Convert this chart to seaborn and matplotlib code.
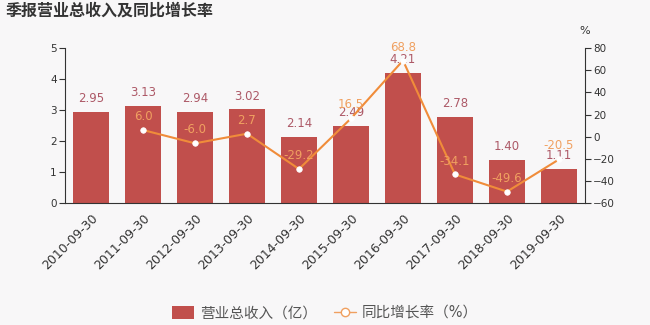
import numpy as np
import pandas as pd
import matplotlib
matplotlib.use("Agg")
import matplotlib.pyplot as plt
import seaborn as sns
from matplotlib.patches import Patch
from matplotlib.lines import Line2D

categories = ["2010-09-30", "2011-09-30", "2012-09-30", "2013-09-30", "2014-09-30",
              "2015-09-30", "2016-09-30", "2017-09-30", "2018-09-30", "2019-09-30"]
revenue = [2.95, 3.13, 2.94, 3.02, 2.14, 2.49, 4.21, 2.78, 1.40, 1.11]
growth = [np.nan, 6.0, -6.0, 2.7, -29.2, 16.5, 68.8, -34.1, -49.6, -20.5]
left_ticks = [0, 1, 2, 3, 4, 5]
right_ticks = [-60, -40, -20, 0, 20, 40, 60, 80]

BG = "#f8f7f8"
BAR = "#c14f4c"
BAR_TXT = "#ad5967"
LINE = "#f08c3a"
LINE_TXT = "#f0a060"
AX = "#333333"

sns.set_theme(style="white")
plt.rcParams["font.family"] = ["DejaVu Sans", "Noto Sans CJK SC"]

df = pd.DataFrame({"date": categories, "revenue": revenue, "growth": growth})
df["pos"] = np.arange(len(df))

fig = plt.figure(figsize=(6.5, 3.25), dpi=100, facecolor=BG)
ax = fig.add_axes([0.1, 0.375, 0.8, 0.477])
ax.set_facecolor(BG)

sns.barplot(data=df, x="pos", y="revenue", color=BAR, width=0.7, ax=ax,
            native_scale=True, saturation=1, edgecolor="none")
ax.set_xlim(-0.5, len(categories) - 0.5)
ax.set_ylim(left_ticks[0], left_ticks[-1])
ax.set_yticks(left_ticks)

ax2 = ax.twinx()
sns.lineplot(data=df, x="pos", y="growth", color=LINE, lw=1.5, marker="o",
             markersize=4, markerfacecolor="white", markeredgecolor="white",
             markeredgewidth=0.5, ax=ax2)
ax2.set_ylim(right_ticks[0], right_ticks[-1])
ax2.set_yticks(right_ticks)

for p, v in zip(df["pos"], df["revenue"]):
    ax.annotate(f"{v:.2f}", (p, v), xytext=(0, 5), textcoords="offset points",
                ha="center", va="bottom", fontsize=8.5, color=BAR_TXT)
for p, g in zip(df["pos"], df["growth"]):
    if not np.isnan(g):
        ax2.annotate(f"{g:.1f}", (p, g), xytext=(0, 5), textcoords="offset points",
                     ha="center", va="bottom", fontsize=8.5, color=LINE_TXT)

# x ticks: boundary ticks, labels at category centers
ax.set_xticks(df["pos"])
ax.set_xticklabels(categories, rotation=45, ha="right", rotation_mode="anchor",
                   fontsize=9, color=AX)
ax.tick_params(axis="x", which="major", length=0, pad=6)
ax.set_xticks(np.arange(len(categories) + 1) - 0.5, minor=True)
ax.tick_params(axis="x", which="minor", length=4, width=0.8, color=AX, direction="out")
ax.tick_params(axis="y", length=4, width=0.8, color=AX, labelsize=7.5, labelcolor=AX, pad=2, direction="out", left=True)
ax2.tick_params(axis="y", length=4, width=0.8, color=AX, labelsize=7.5, labelcolor=AX, pad=2, direction="out", right=True)

for a in (ax, ax2):
    a.set_xlabel("")
    a.set_ylabel("")
    a.spines["top"].set_visible(False)
    for s in ("left", "right", "bottom"):
        a.spines[s].set_color(AX)
        a.spines[s].set_linewidth(0.8)
ax.spines["right"].set_visible(False)
ax2.spines["left"].set_visible(False)
ax2.spines["bottom"].set_visible(False)
ax2.grid(False)
ax.grid(False)

fig.text(585 / 650, 1 - 31 / 325, "%", ha="center", va="center", fontsize=8, color=AX)
fig.text(6 / 650, 1 - 11 / 325, "季报营业总收入及同比增长率", ha="left", va="center",
         fontsize=11.5, fontweight="bold", color="#333333")

handles = [Patch(facecolor=BAR, edgecolor="none"),
           Line2D([0], [0], color=LINE_TXT, lw=1, marker="o", markersize=6,
                  markerfacecolor="white", markeredgecolor=LINE_TXT)]
fig.legend(handles, ["营业总收入（亿）", "同比增长率（%）"], loc="center",
           bbox_to_anchor=(0.5, 1 - 313 / 325), ncol=2, frameon=False,
           fontsize=10.5, labelcolor="#555555", handlelength=1.5, handleheight=0.9,
           columnspacing=1.2, handletextpad=0.4)

fig.savefig("out.png", dpi=100, facecolor=BG)
